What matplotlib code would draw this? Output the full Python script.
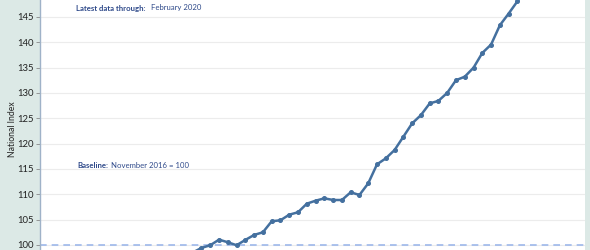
import matplotlib
matplotlib.use('Agg')
import matplotlib.pyplot as plt

# month index (0 = first visible point), index values
months = list(range(-1, 38))
index_values = [98.5, 99.41, 99.94, 101.04, 100.53, 99.94, 100.99, 101.97, 102.50,
                104.67, 104.87, 105.97, 106.45, 108.14, 108.73, 109.20, 108.87,
                108.87, 110.39, 109.86, 112.16, 115.91, 117.09, 118.73, 121.35,
                123.99, 125.62, 127.93, 128.44, 130.02, 132.52, 133.21, 134.99,
                137.90, 139.56, 143.37, 145.67, 148.10, 150.5]
yticks = [100, 105, 110, 115, 120, 125, 130, 135, 140, 145]
baseline = 100

plt.rcParams['font.family'] = ['Lato', 'DejaVu Sans']

W, H = 590, 250
fig = plt.figure(figsize=(W / 100, H / 100), dpi=100, facecolor='#dce9e6')
ax = fig.add_axes([40 / W, 0, 545 / W, 1])
ax.set_facecolor('white')

ax.set_xlim(-18.4, 43.7)
ax.set_ylim(99.0, 148.35)

for t in yticks:
    ax.axhline(t, color='#ececec', lw=0.8, zorder=0)
ax.axhline(baseline, color='#9db8ea', lw=1.2, ls=(0, (4, 3)), zorder=1)

ax.plot(months, index_values, color='#44709f', lw=1.8, marker='o',
        markersize=2.6, zorder=3)

ax.set_yticks(yticks)
ax.set_yticklabels([str(t) for t in yticks], fontsize=6.8, color='#222222')
ax.tick_params(axis='y', length=3, width=0.6, color='#888888', pad=1.5)
ax.set_xticks([])
for side in ['top', 'bottom', 'right']:
    ax.spines[side].set_visible(False)
ax.spines['left'].set_color('#9fb2c8')
ax.spines['left'].set_linewidth(1.0)

fig.text(13 / W, 1 - 129 / H, 'National Index', rotation=90, fontsize=6.2,
         color='#222222', ha='center', va='center')

# annotations: bold label followed by normal text
t1 = fig.text(76 / W, 1 - 8 / H, 'Latest data through:', fontsize=5.6,
              fontweight='bold', color='#2f4a8a', va='center')
ax.annotate('February 2020', xy=(1, 0.6), xycoords=t1, xytext=(4, 0),
            textcoords='offset points', fontsize=5.6, color='#2f4a8a',
            va='center')

t2 = fig.text(77 / W, 1 - 166 / H, 'Baseline:', fontsize=5.6, fontweight='bold',
              color='#2f4a8a', va='center')
ax.annotate('November 2016 = 100', xy=(1, 0.5), xycoords=t2, xytext=(2.5, 0),
            textcoords='offset points', fontsize=5.6, color='#2f4a8a',
            va='center')

fig.savefig('out.png', dpi=100, facecolor=fig.get_facecolor())
